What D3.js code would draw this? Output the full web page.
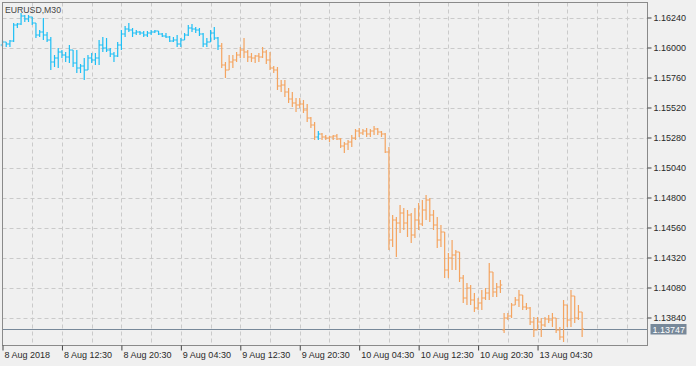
<!DOCTYPE html>
<html>
<head>
<meta charset="utf-8">
<script src="https://cdn.jsdelivr.net/npm/d3@7"></script>
<style>
  html, body { margin: 0; padding: 0; background: #f0f0f0; }
  svg { display: block; }
  text { font-family: "Liberation Sans", Arial, sans-serif; }
</style>
</head>
<body>
<script>
// EURUSD M30 bars, 8 Aug 2018 04:30 onwards
var symbolLabel = 'EURUSD,M30';

var opens = [
    1.16020, 1.16044, 1.16028, 1.16052, 1.16180, 1.16188, 1.16252, 1.16228, 1.16244, 1.16196,
    1.16100, 1.16124, 1.16100, 1.16060, 1.15884, 1.15916, 1.15964, 1.15940, 1.15924, 1.15980,
    1.15876, 1.15836, 1.15852, 1.15820, 1.15916, 1.15900, 1.15916, 1.16020, 1.15996, 1.15980,
    1.15948, 1.15932, 1.16020, 1.16108, 1.16148, 1.16140, 1.16116, 1.16124, 1.16116, 1.16100,
    1.16116, 1.16124, 1.16132, 1.16108, 1.16092, 1.16084, 1.16052, 1.16060, 1.16028, 1.16060,
    1.16100, 1.16156, 1.16148, 1.16140, 1.16108, 1.16028, 1.16044, 1.16116, 1.16076, 1.16012,
    1.15860, 1.15820, 1.15884, 1.15900, 1.15940, 1.15980, 1.15964, 1.15924, 1.15916, 1.15932,
    1.15924, 1.15964, 1.15900, 1.15836, 1.15820, 1.15692, 1.15700, 1.15644, 1.15588, 1.15556,
    1.15540, 1.15548, 1.15500, 1.15436, 1.15380, 1.15284, 1.15308, 1.15284, 1.15276, 1.15284,
    1.15292, 1.15268, 1.15212, 1.15228, 1.15244, 1.15276, 1.15332, 1.15316, 1.15332, 1.15308,
    1.15332, 1.15348, 1.15324, 1.15308, 1.15164, 1.14460, 1.14620, 1.14596, 1.14676, 1.14596,
    1.14660, 1.14500, 1.14620, 1.14588, 1.14700, 1.14780, 1.14660, 1.14580, 1.14460, 1.14524,
    1.14220, 1.14316, 1.14340, 1.14364, 1.14156, 1.13996, 1.14076, 1.13980, 1.13916, 1.13956,
    1.13996, 1.14036, 1.14204, 1.14044, 1.14084, 1.13740, 1.13836, 1.13852, 1.13940, 1.13980,
    1.14020, 1.13924, 1.13916, 1.13804, 1.13740, 1.13804, 1.13780, 1.13828, 1.13820, 1.13836,
    1.13740, 1.13684, 1.13940, 1.13820, 1.14012, 1.13836, 1.13884
];
var highs = [
    1.16060, 1.16044, 1.16060, 1.16196, 1.16196, 1.16276, 1.16260, 1.16260, 1.16244, 1.16196,
    1.16140, 1.16236, 1.16124, 1.16084, 1.15940, 1.15996, 1.15980, 1.15964, 1.16020, 1.15980,
    1.15980, 1.15868, 1.15916, 1.15940, 1.15956, 1.15956, 1.16060, 1.16084, 1.16076, 1.15996,
    1.15964, 1.16044, 1.16140, 1.16172, 1.16196, 1.16156, 1.16140, 1.16132, 1.16132, 1.16132,
    1.16140, 1.16140, 1.16132, 1.16116, 1.16116, 1.16092, 1.16084, 1.16100, 1.16076, 1.16116,
    1.16180, 1.16188, 1.16164, 1.16156, 1.16116, 1.16076, 1.16140, 1.16164, 1.16084, 1.16036,
    1.15884, 1.15940, 1.15940, 1.15964, 1.16004, 1.16076, 1.15980, 1.15956, 1.15940, 1.15956,
    1.16004, 1.15980, 1.15964, 1.15852, 1.15844, 1.15740, 1.15740, 1.15676, 1.15644, 1.15596,
    1.15596, 1.15580, 1.15548, 1.15444, 1.15404, 1.15332, 1.15316, 1.15300, 1.15292, 1.15300,
    1.15308, 1.15276, 1.15244, 1.15260, 1.15300, 1.15348, 1.15356, 1.15348, 1.15356, 1.15348,
    1.15372, 1.15356, 1.15332, 1.15316, 1.15204, 1.14660, 1.14644, 1.14740, 1.14716, 1.14700,
    1.14676, 1.14716, 1.14756, 1.14780, 1.14820, 1.14796, 1.14700, 1.14644, 1.14580, 1.14524,
    1.14356, 1.14460, 1.14380, 1.14364, 1.14180, 1.14116, 1.14100, 1.14036, 1.13996, 1.14060,
    1.14076, 1.14276, 1.14204, 1.14116, 1.14140, 1.13876, 1.13876, 1.13956, 1.14004, 1.14060,
    1.14020, 1.13956, 1.13924, 1.13844, 1.13844, 1.13836, 1.13844, 1.13860, 1.13876, 1.13836,
    1.13764, 1.13980, 1.13940, 1.14060, 1.14012, 1.13940, 1.13884
];
var lows = [
    1.16004, 1.16004, 1.16004, 1.16044, 1.16156, 1.16180, 1.16204, 1.16204, 1.16180, 1.16076,
    1.16084, 1.16060, 1.16044, 1.15820, 1.15844, 1.15836, 1.15916, 1.15884, 1.15876, 1.15844,
    1.15796, 1.15796, 1.15740, 1.15820, 1.15876, 1.15860, 1.15860, 1.15964, 1.15964, 1.15924,
    1.15884, 1.15924, 1.15980, 1.16084, 1.16124, 1.16084, 1.16100, 1.16100, 1.16084, 1.16084,
    1.16100, 1.16116, 1.16100, 1.16084, 1.16076, 1.16044, 1.16044, 1.16004, 1.16004, 1.16060,
    1.16092, 1.16124, 1.16116, 1.16092, 1.16004, 1.16004, 1.16044, 1.16060, 1.15980, 1.15836,
    1.15756, 1.15820, 1.15836, 1.15884, 1.15916, 1.15916, 1.15884, 1.15884, 1.15876, 1.15884,
    1.15916, 1.15868, 1.15820, 1.15796, 1.15660, 1.15644, 1.15604, 1.15556, 1.15524, 1.15484,
    1.15516, 1.15476, 1.15404, 1.15356, 1.15260, 1.15260, 1.15260, 1.15260, 1.15244, 1.15260,
    1.15260, 1.15196, 1.15156, 1.15180, 1.15204, 1.15260, 1.15284, 1.15300, 1.15284, 1.15284,
    1.15300, 1.15300, 1.15284, 1.15156, 1.14380, 1.14404, 1.14324, 1.14516, 1.14540, 1.14484,
    1.14436, 1.14476, 1.14540, 1.14572, 1.14620, 1.14604, 1.14540, 1.14396, 1.14404, 1.14156,
    1.14156, 1.14220, 1.14220, 1.14124, 1.13956, 1.13940, 1.13940, 1.13884, 1.13900, 1.13900,
    1.13980, 1.13980, 1.14004, 1.14004, 1.14036, 1.13716, 1.13820, 1.13836, 1.13940, 1.13924,
    1.13900, 1.13900, 1.13780, 1.13684, 1.13740, 1.13684, 1.13764, 1.13796, 1.13764, 1.13716,
    1.13660, 1.13644, 1.13764, 1.13764, 1.13796, 1.13820, 1.13684
];
var closes = [
    1.16044, 1.16028, 1.16052, 1.16180, 1.16188, 1.16252, 1.16228, 1.16244, 1.16196, 1.16100,
    1.16124, 1.16100, 1.16060, 1.15884, 1.15916, 1.15964, 1.15940, 1.15924, 1.15980, 1.15876,
    1.15836, 1.15852, 1.15820, 1.15916, 1.15900, 1.15916, 1.16020, 1.15996, 1.15980, 1.15948,
    1.15932, 1.16020, 1.16108, 1.16148, 1.16140, 1.16116, 1.16124, 1.16116, 1.16100, 1.16116,
    1.16124, 1.16132, 1.16108, 1.16092, 1.16084, 1.16052, 1.16060, 1.16028, 1.16060, 1.16100,
    1.16156, 1.16148, 1.16140, 1.16108, 1.16028, 1.16044, 1.16116, 1.16076, 1.16012, 1.15860,
    1.15820, 1.15884, 1.15900, 1.15940, 1.15980, 1.15964, 1.15924, 1.15916, 1.15932, 1.15924,
    1.15964, 1.15900, 1.15836, 1.15820, 1.15692, 1.15700, 1.15644, 1.15588, 1.15556, 1.15540,
    1.15548, 1.15500, 1.15436, 1.15380, 1.15284, 1.15308, 1.15284, 1.15276, 1.15284, 1.15292,
    1.15268, 1.15212, 1.15228, 1.15244, 1.15276, 1.15332, 1.15316, 1.15332, 1.15308, 1.15332,
    1.15348, 1.15324, 1.15308, 1.15164, 1.14460, 1.14620, 1.14596, 1.14676, 1.14596, 1.14660,
    1.14500, 1.14620, 1.14588, 1.14700, 1.14780, 1.14660, 1.14580, 1.14460, 1.14524, 1.14220,
    1.14316, 1.14340, 1.14364, 1.14156, 1.13996, 1.14076, 1.13980, 1.13916, 1.13956, 1.13996,
    1.14036, 1.14204, 1.14044, 1.14084, 1.14100, 1.13836, 1.13852, 1.13940, 1.13980, 1.14020,
    1.13924, 1.13916, 1.13804, 1.13740, 1.13804, 1.13780, 1.13828, 1.13820, 1.13836, 1.13740,
    1.13684, 1.13940, 1.13820, 1.14012, 1.13836, 1.13884, 1.13747
];
// bar index ranges drawn in the "up" colour, everything else is "down"
var upRanges = [[0, 58], [85, 85]];
var lastPrice = 1.13747;

var priceTicks = [1.16240, 1.16000, 1.15760, 1.15520, 1.15280, 1.15040,
    1.14800, 1.14560, 1.14320, 1.14080, 1.13840];
var timeTickBars = [0, 16, 32, 48, 64, 80, 96, 112, 128, 144];
var timeLabels = ['8 Aug 2018', '8 Aug 12:30', '8 Aug 20:30', '9 Aug 04:30', '9 Aug 12:30',
    '9 Aug 20:30', '10 Aug 04:30', '10 Aug 12:30', '10 Aug 20:30', '13 Aug 04:30'];

var WIDTH = 696,
    HEIGHT = 366,
    PLOT = {left: 2.5, top: 2.5, right: 647.5, bottom: 345.5},
    UP_COLOR = '#1ebff5',
    DOWN_COLOR = '#f4a460',
    GRID_COLOR = '#cacaca',
    FRAME_COLOR = '#8a8a8a',
    TEXT_COLOR = '#2a2a2a',
    PRICE_LINE = '#778899';

var svg = d3.select('body').append('svg')
    .attr('width', WIDTH)
    .attr('height', HEIGHT);

svg.append('rect')
    .attr('width', WIDTH)
    .attr('height', HEIGHT)
    .attr('fill', '#f0f0f0');

var x = d3.scaleLinear()
    .domain([0, 16])
    .range([2.5, 2.5 + 59.45]);

var y = d3.scaleLinear()
    .domain([1.16240, 1.13840])
    .range([17.5, 317.5]);

var barStep = x(1) - x(0);

// grid
var grid = svg.append('g')
    .attr('stroke', GRID_COLOR)
    .attr('stroke-width', 1)
    .attr('stroke-dasharray', '4,3');

var vGrid = d3.range(8, 176, 8).map(d => Math.round(x(d)) + 0.5)
    .filter(v => v < PLOT.right - 2);
grid.selectAll('line.v')
    .data(vGrid)
    .enter().append('line')
    .attr('class', 'v')
    .attr('x1', d => d).attr('x2', d => d)
    .attr('y1', PLOT.top).attr('y2', PLOT.bottom);

grid.selectAll('line.h')
    .data(priceTicks)
    .enter().append('line')
    .attr('class', 'h')
    .attr('x1', PLOT.left).attr('x2', PLOT.right)
    .attr('y1', d => Math.round(y(d)) + 0.5)
    .attr('y2', d => Math.round(y(d)) + 0.5);

// current price line
var yLast = Math.round(y(lastPrice)) + 0.5;
svg.append('line')
    .attr('x1', PLOT.left).attr('x2', PLOT.right)
    .attr('y1', yLast).attr('y2', yLast)
    .attr('stroke', PRICE_LINE)
    .attr('stroke-width', 1.2);

// bars
var isUp = i => upRanges.some(r => i >= r[0] && i <= r[1]);

svg.append('g')
    .selectAll('path')
    .data(d3.range(opens.length))
    .enter().append('path')
    .attr('fill', 'none')
    .attr('stroke-width', 1.2)
    .attr('stroke', i => isUp(i) ? UP_COLOR : DOWN_COLOR)
    .attr('d', i => {
        var cx = x(i),
            t = barStep * 0.5;
        return 'M' + cx + ',' + y(highs[i]) + 'V' + y(lows[i]) +
            'M' + (cx - t) + ',' + y(opens[i]) + 'H' + cx +
            'M' + cx + ',' + y(closes[i]) + 'H' + (cx + t);
    });

// frame
svg.append('rect')
    .attr('x', PLOT.left).attr('y', PLOT.top)
    .attr('width', PLOT.right - PLOT.left)
    .attr('height', PLOT.bottom - PLOT.top)
    .attr('fill', 'none')
    .attr('stroke', FRAME_COLOR)
    .attr('stroke-width', 1);

// price axis
var yAxis = d3.axisRight(y)
    .tickValues(priceTicks)
    .tickSize(4)
    .tickPadding(2)
    .tickFormat(d3.format('.5f'));

var yg = svg.append('g')
    .attr('transform', 'translate(' + PLOT.right + ',0)')
    .call(yAxis);
yg.select('.domain').remove();
yg.selectAll('.tick line').attr('stroke', '#444');
yg.selectAll('.tick text')
    .attr('fill', TEXT_COLOR)
    .style('font-size', '9px')
    .attr('dy', '0.34em');

// time axis
var xAxis = d3.axisBottom(x)
    .tickValues(timeTickBars)
    .tickSize(5)
    .tickFormat((d, i) => timeLabels[i]);

var xg = svg.append('g')
    .attr('transform', 'translate(0,' + PLOT.bottom + ')')
    .call(xAxis);
xg.select('.domain').remove();
xg.selectAll('.tick line').attr('stroke', '#444');
xg.selectAll('.tick text')
    .attr('fill', TEXT_COLOR)
    .attr('text-anchor', 'start')
    .attr('x', 1.5)
    .attr('y', 6)
    .style('font-size', '9px');

// last price tag
var tag = svg.append('g')
    .attr('transform', 'translate(' + (PLOT.right + 3) + ',' + (yLast - 5.5) + ')');
tag.append('rect')
    .attr('width', 36)
    .attr('height', 10.5)
    .attr('fill', PRICE_LINE);
tag.append('text')
    .attr('x', 2)
    .attr('y', 8.5)
    .attr('fill', '#fff')
    .style('font-size', '9px')
    .text(d3.format('.5f')(lastPrice));

// symbol caption
svg.append('text')
    .attr('x', 5)
    .attr('y', 13)
    .attr('fill', '#444')
    .style('font-size', '8.7px')
    .text(symbolLabel);
</script>
</body>
</html>
